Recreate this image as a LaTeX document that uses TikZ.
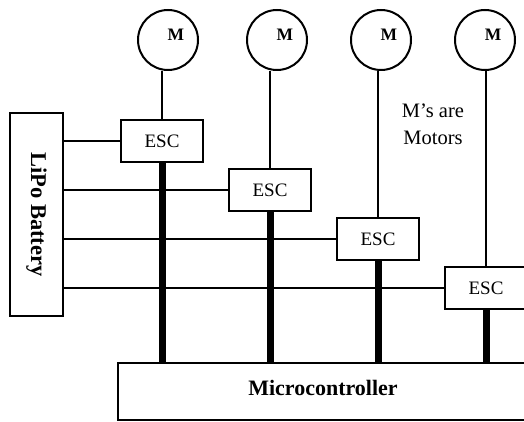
\documentclass[tikz,border=0pt]{standalone}
\usepackage{fontspec}
\setmainfont{Liberation Serif}
\usetikzlibrary{positioning}

\begin{document}
\begin{tikzpicture}[x=1pt, y=-1pt,
  motor/.style={circle, draw=black, line width=2pt, minimum size=60pt, inner sep=0pt},
  mlab/.style={font=\fontsize{17.5}{20}\selectfont\bfseries, xshift=8pt, yshift=5pt, inner sep=0pt},
  escbox/.style={rectangle, draw=black, line width=2pt, minimum width=82pt, minimum height=42pt, inner sep=0pt, outer sep=0pt, font=\fontsize{19}{22}\selectfont},
  lipo/.style={rectangle, draw=black, line width=2pt, minimum width=203pt, minimum height=53pt, inner sep=0pt, outer sep=0pt, rotate=-90, font=\fontsize{22.5}{26}\selectfont\bfseries},
  mcu/.style={rectangle, draw=black, line width=2pt, minimum width=410pt, minimum height=57pt, inner sep=0pt, outer sep=0pt, text depth=8pt, font=\fontsize{22}{26}\selectfont\bfseries},
  note/.style={align=center, inner sep=0pt, font=\fontsize{20.5}{27}\selectfont},
  wire/.style={line width=1.5pt},
  bus/.style={line width=7pt}]
\useasboundingbox (0,0) rectangle (524,422);
\clip (0,0) rectangle (524,422);
% motors
\foreach \x [count=\i] in {168,277,381,485}
  \node[motor, label={[mlab]center:M}] (m\i) at (\x,40) {};
% speed controllers
\node[escbox] (esc1) at (162,141) {ESC};
\node[escbox, below right=7pt and 26pt of esc1] (esc2) {ESC};
\node[escbox, below right=7pt and 26pt of esc2] (esc3) {ESC};
\node[escbox, below right=7pt and 26pt of esc3] (esc4) {ESC};
\node[lipo] (bat) at (36.5,214.5) {LiPo Battery};
\node[mcu] (uc) at (323,391.5) {Microcontroller};
\node[note] (legend) at (433,124) {M’s are\\Motors};
\foreach \i in {1,...,4} {
  \draw[wire] (esc\i.north) -- (esc\i.north |- m\i.south);
  \draw[wire] (esc\i.west) -- (esc\i.west -| bat.north);
}
\foreach \i in {1,...,4}
  \draw[bus] (esc\i.south) -- (esc\i.south |- uc.north);
\end{tikzpicture}
\end{document}
